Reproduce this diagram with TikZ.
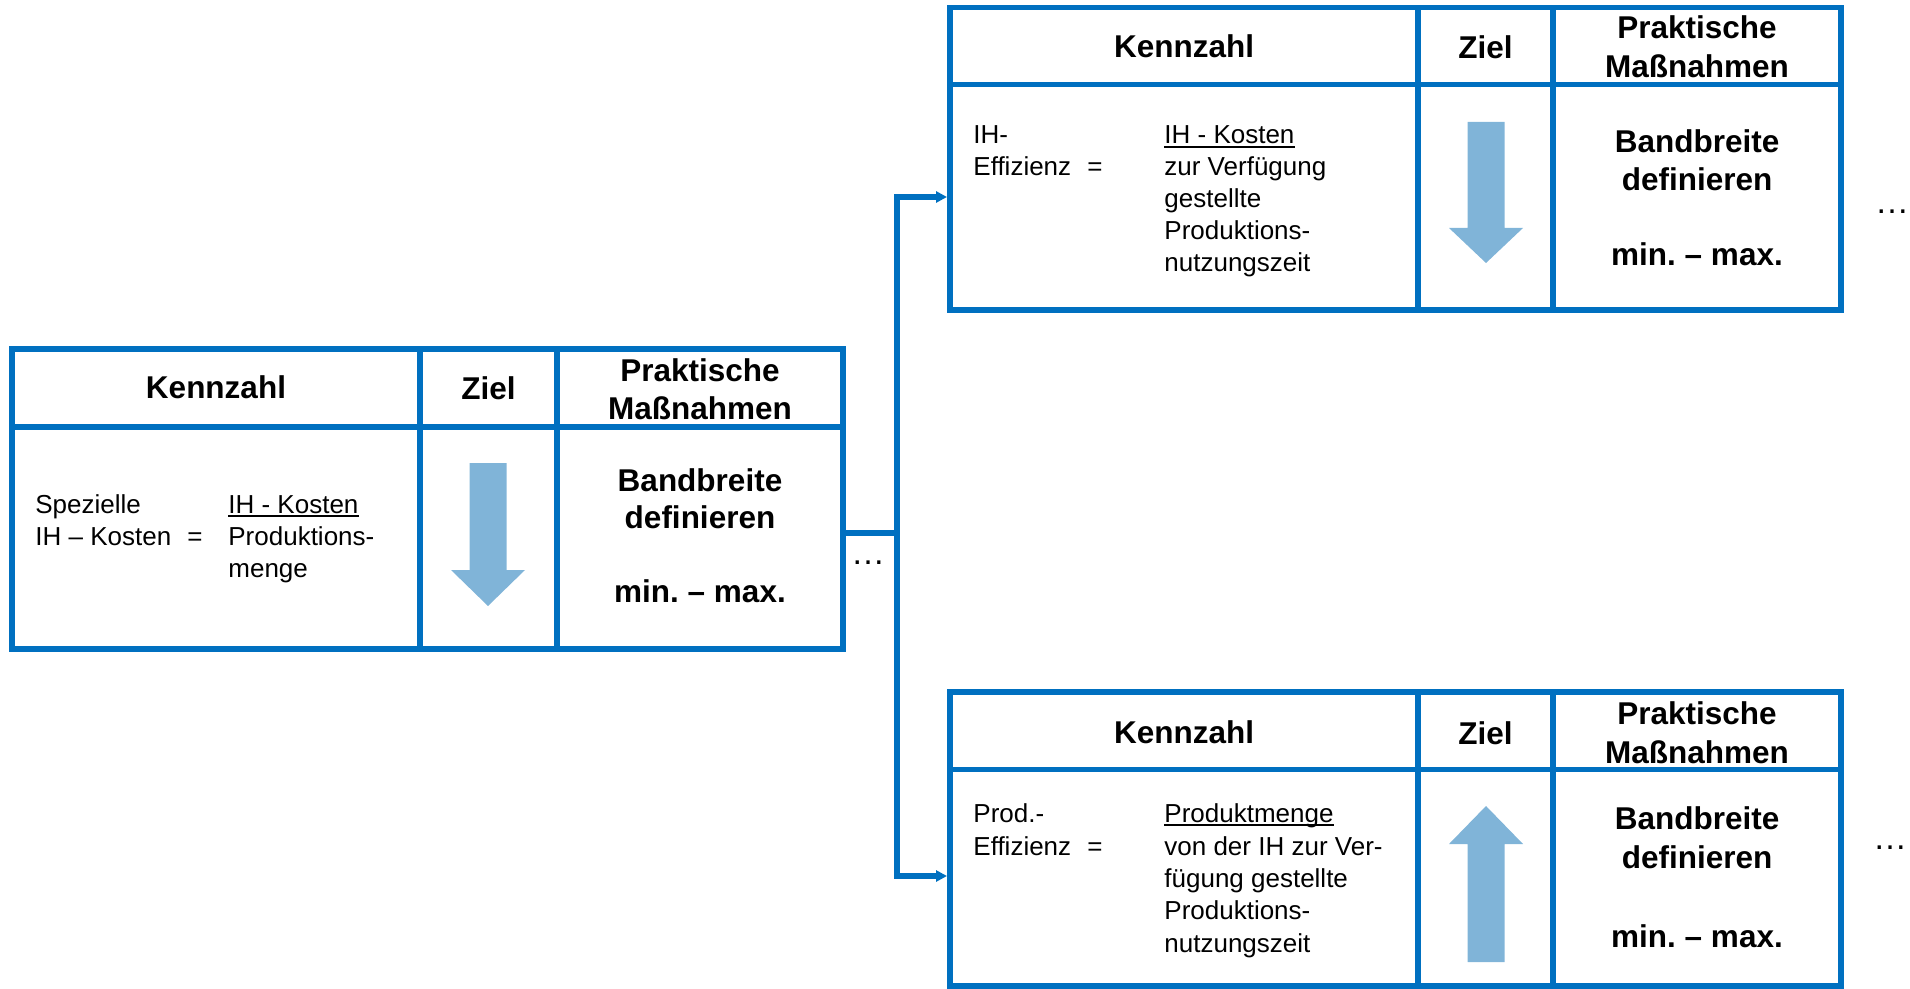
\documentclass[tikz,border=0pt]{standalone}
\usepackage{fontspec}
\setmainfont{Liberation Sans}
\usetikzlibrary{arrows.meta,calc}
\definecolor{tblue}{RGB}{0,112,192}
\definecolor{afill}{RGB}{128,180,216}
\frenchspacing
\begin{document}
\begin{tikzpicture}[x=0.5pt,y=-0.5pt,
  grid/.style={draw=tblue,line width=2.6pt,line join=miter},
  hd/.style={font=\fontsize{15.75}{19}\selectfont\bfseries,inner sep=0pt,anchor=base},
  tx/.style={font=\fontsize{13}{16}\selectfont,inner sep=0pt,anchor=base west},
  txc/.style={font=\fontsize{13}{16}\selectfont,inner sep=0pt,anchor=base},
  ul/.style={draw=black,line width=0.8pt},
  conn/.style={draw=tblue,line width=2.6pt},
  tip/.style={-{Triangle[length=5.5pt,width=5.5pt]}},
  blk/.style={fill=afill,draw=none},
  dotsty/.style={font=\fontsize{17}{20}\selectfont,inner sep=0pt,anchor=base}]
\useasboundingbox (0,0) rectangle (1910,989);

% ---------- left table ----------
\draw[grid] (12,349) rectangle (843,649);
\draw[grid] (12,427) -- (843,427);
\draw[grid] (420,349) -- (420,649);
\draw[grid] (557,349) -- (557,649);
\node[hd] (lK) at (216,399) {Kennzahl};
\node[hd] (lZ) at (488.5,400) {Ziel};
\node[hd] (lP1) at (700,381) {Praktische};
\node[hd] (lP2) at (700,419) {Maßnahmen};
\node[hd] (lB1) at (700,491) {Bandbreite};
\node[hd] (lB2) at (700,528) {definieren};
\node[hd] (lB3) at (700,602) {min. – max.};
\node[tx] (lT1) at (35,513) {Spezielle};
\node[tx] (lT2) at (35,545) {IH – Kosten};
\node[txc] (lEq) at (195,545) {=};
\node[tx] (lF1) at (228,513) {IH - Kosten};
\node[tx] (lF2) at (228,545) {Produktions-};
\node[tx] (lF3) at (228,577) {menge};
\draw[ul] ($(lF1.base west)+(0,3)$) -- ($(lF1.base east)+(0,3)$);
\fill[blk] (469.5,463) -- (506.5,463) -- (506.5,570) -- (525,570) -- (488,606) -- (451,570) -- (469.5,570) -- cycle;

% ---------- top table ----------
\draw[grid] (950,7.5) rectangle (1841,310);
\draw[grid] (950,84.5) -- (1841,84.5);
\draw[grid] (1418,7.5) -- (1418,310);
\draw[grid] (1553,7.5) -- (1553,310);
\node[hd] (tK) at (1184,58) {Kennzahl};
\node[hd] (tZ) at (1485.5,59) {Ziel};
\node[hd] (tP1) at (1697,39) {Praktische};
\node[hd] (tP2) at (1697,78) {Maßnahmen};
\node[hd] (tB1) at (1697,153) {Bandbreite};
\node[hd] (tB2) at (1697,191) {definieren};
\node[hd] (tB3) at (1697,266) {min. – max.};
\node[tx] (tT1) at (973,144) {IH-};
\node[tx] (tT2) at (973,176) {Effizienz};
\node[txc] (tEq) at (1095,176) {=};
\node[tx] (tF1) at (1164,144) {IH - Kosten};
\node[tx] (tF2) at (1164,176) {zur Verfügung};
\node[tx] (tF3) at (1164,208) {gestellte};
\node[tx] (tF4) at (1164,240) {Produktions-};
\node[tx] (tF5) at (1164,272) {nutzungszeit};
\draw[ul] ($(tF1.base west)+(0,3)$) -- ($(tF1.base east)+(0,3)$);
\fill[blk] (1467.5,122) -- (1504.5,122) -- (1504.5,228) -- (1523,228) -- (1486,263) -- (1449,228) -- (1467.5,228) -- cycle;
\node[dotsty] (tDots) at (1892,214) {…};

% ---------- bottom table ----------
\draw[grid] (950,692) rectangle (1841,986);
\draw[grid] (950,769.5) -- (1841,769.5);
\draw[grid] (1418,692) -- (1418,986);
\draw[grid] (1553,692) -- (1553,986);
\node[hd] (bK) at (1184,743) {Kennzahl};
\node[hd] (bZ) at (1485.5,744) {Ziel};
\node[hd] (bP1) at (1697,724) {Praktische};
\node[hd] (bP2) at (1697,763) {Maßnahmen};
\node[hd] (bB1) at (1697,829) {Bandbreite};
\node[hd] (bB2) at (1697,868) {definieren};
\node[hd] (bB3) at (1697,947) {min. – max.};
\node[tx] (bT1) at (973,822) {Prod.-};
\node[tx] (bT2) at (973,855) {Effizienz};
\node[txc] (bEq) at (1095,855) {=};
\node[tx] (bF1) at (1164,822) {Produktmenge};
\node[tx] (bF2) at (1164,855) {von der IH zur Ver-};
\node[tx] (bF3) at (1164,887) {fügung gestellte};
\node[tx] (bF4) at (1164,919) {Produktions-};
\node[tx] (bF5) at (1164,952) {nutzungszeit};
\draw[ul] ($(bF1.base west)+(0,3)$) -- ($(bF1.base east)+(0,3)$);
\fill[blk] (1467.5,962) -- (1504.5,962) -- (1504.5,844) -- (1523,844) -- (1486,806) -- (1449,844) -- (1467.5,844) -- cycle;
\node[dotsty] (bDots) at (1890,849) {…};

% ---------- connectors ----------
\coordinate (jL) at (843,533);
\coordinate (jM) at (897,533);
\coordinate (inTop) at (947,197);
\coordinate (inBot) at (947,876);
\draw[conn] (jL) -- (jM);
\draw[conn,tip] (jM) |- (inTop);
\draw[conn,tip] (jM) |- (inBot);
\node[dotsty] (lDots) at (868,564) {…};
\end{tikzpicture}
\end{document}
